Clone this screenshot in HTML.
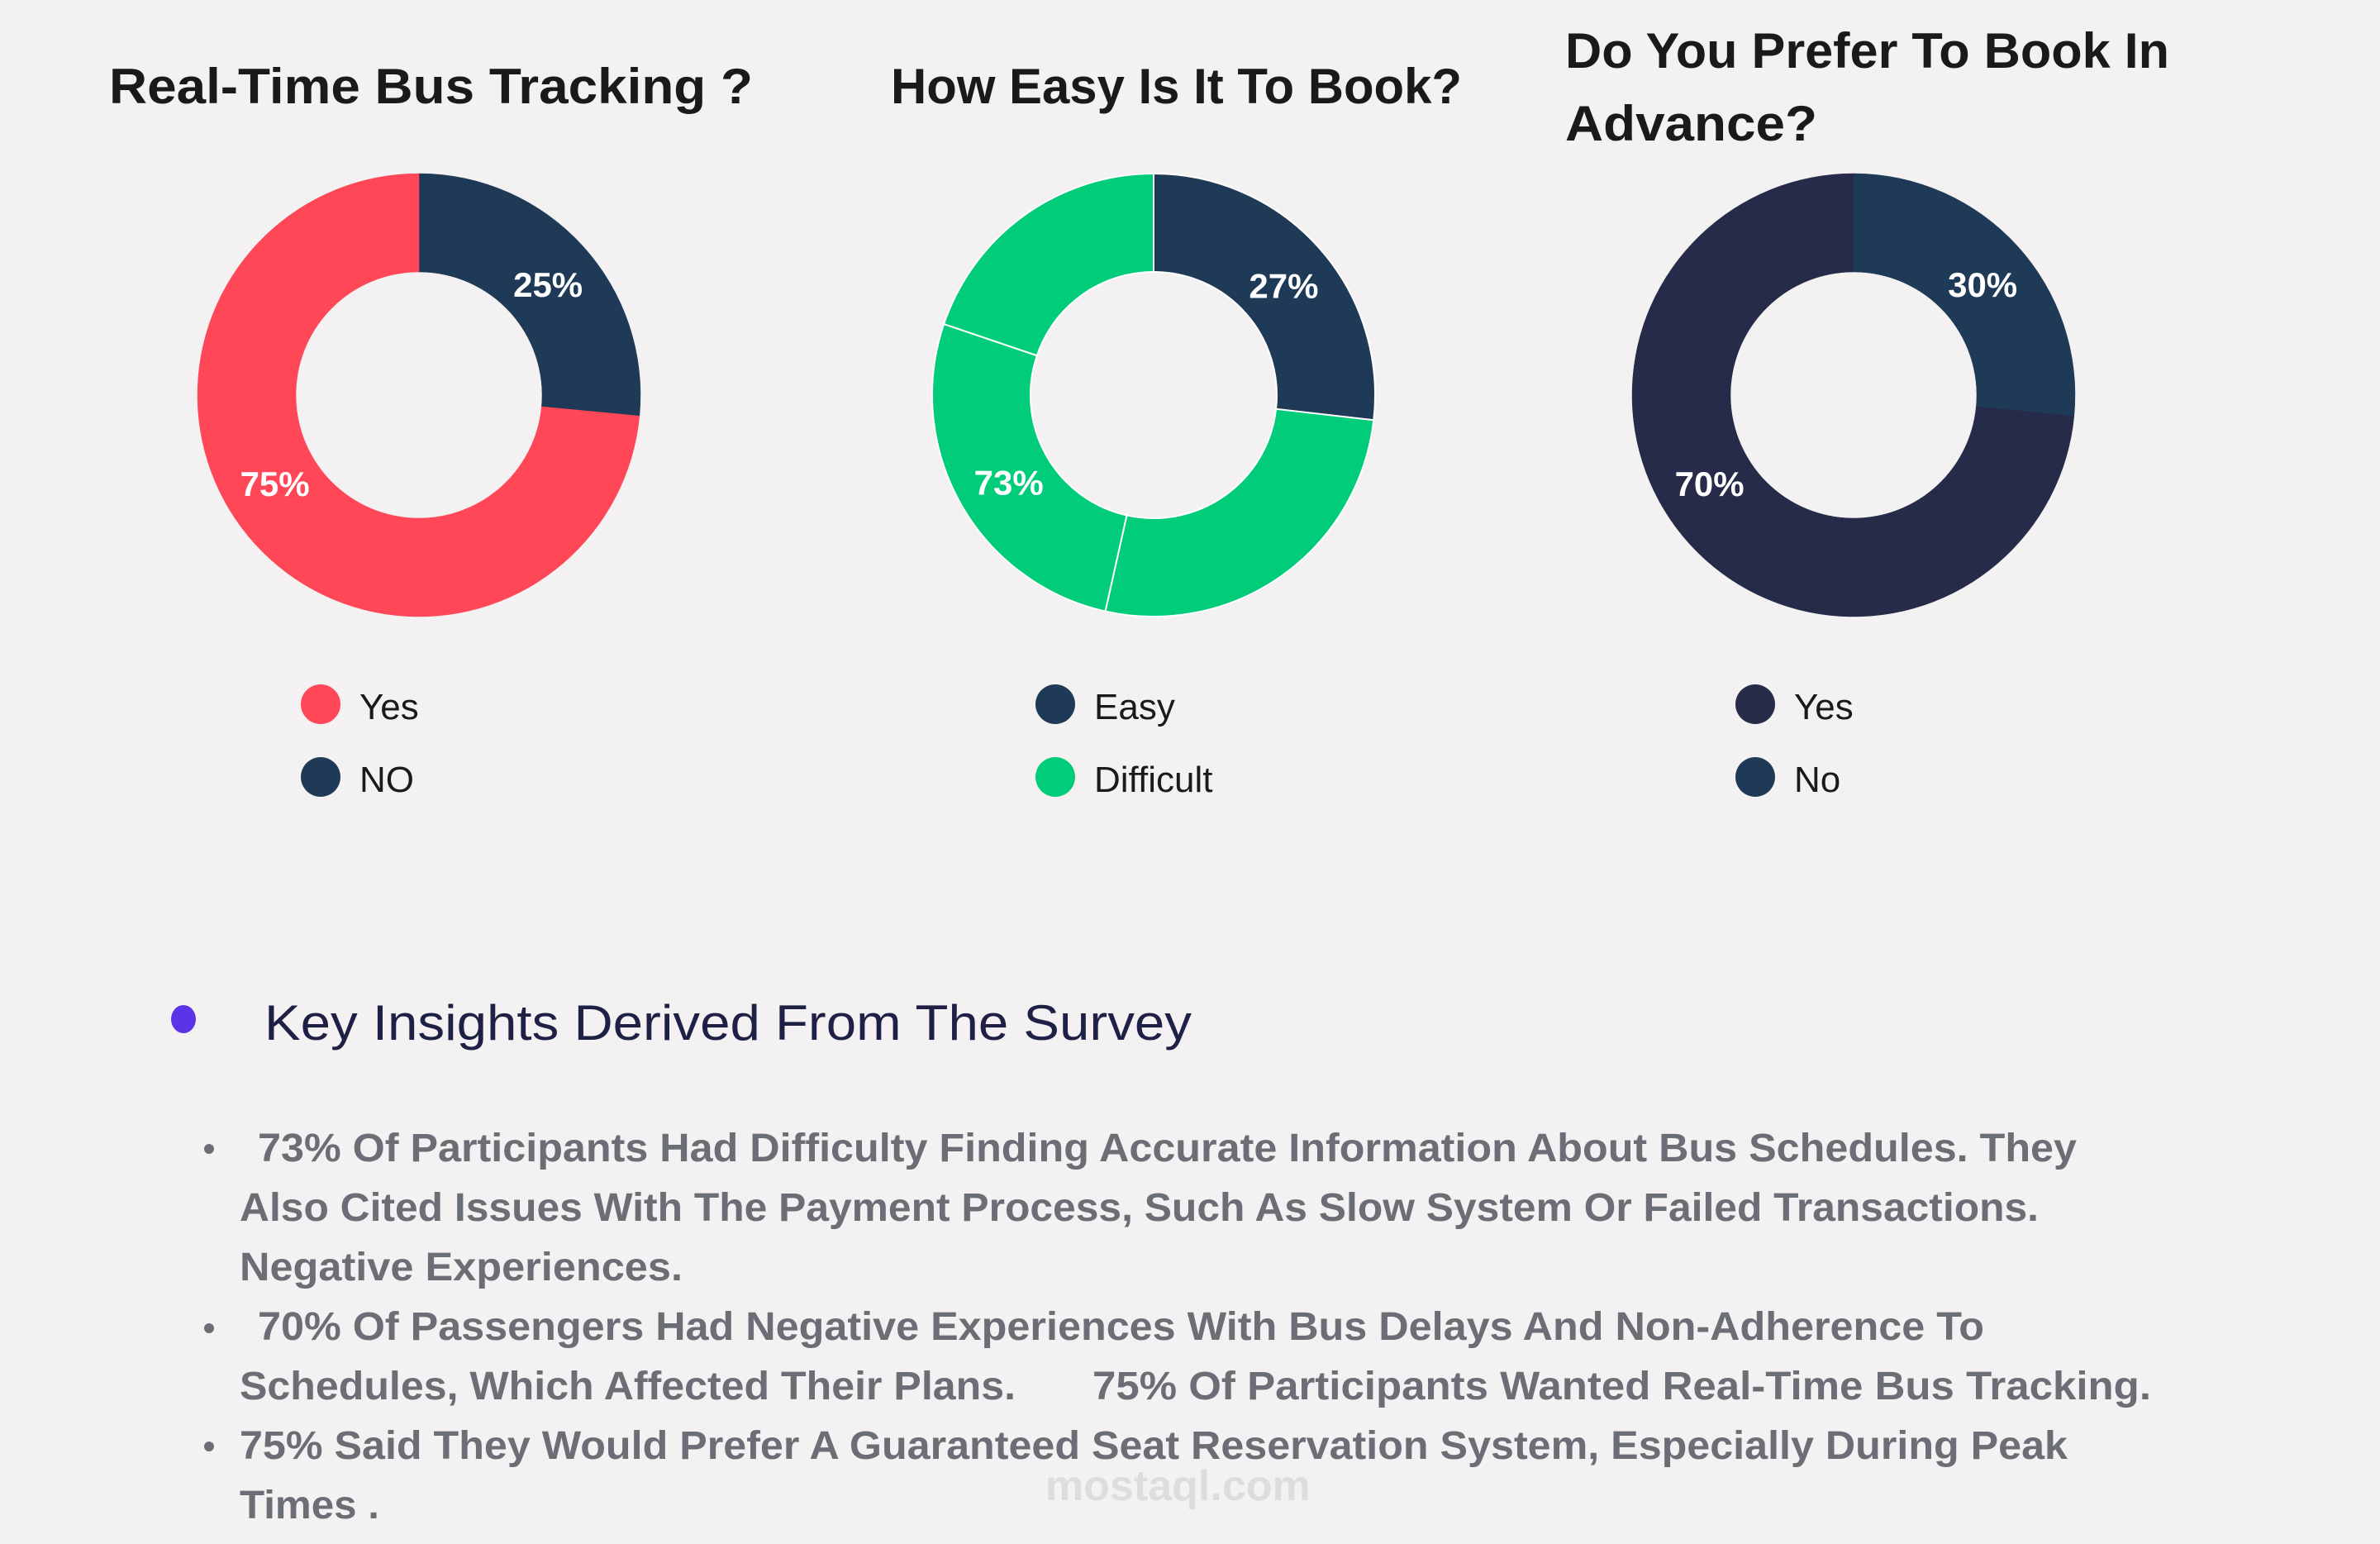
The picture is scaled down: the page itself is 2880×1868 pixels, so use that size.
<!DOCTYPE html>
<html><head><meta charset="utf-8"><style>
html,body{margin:0;padding:0;background:#F3F1F1;}
svg{display:block;font-family:"Liberation Sans",sans-serif;}
</style></head><body>
<svg id="root" width="2880" height="1868" viewBox="0 0 2880 1868">
<rect width="2880" height="1868" fill="#F3F1F1"/>
<g font-weight="bold" fill="#1a1a1a" font-size="60">
<text x="132" y="125" textLength="779" lengthAdjust="spacingAndGlyphs">Real-Time Bus Tracking ?</text>
<text x="1078" y="125" textLength="691" lengthAdjust="spacingAndGlyphs">How Easy Is It To Book?</text>
<text x="1894" y="82" textLength="731" lengthAdjust="spacingAndGlyphs">Do You Prefer To Book In</text>
<text x="1894" y="170" textLength="305" lengthAdjust="spacingAndGlyphs">Advance?</text>
</g>
<g id="charts"></g>
<g>
<ellipse cx="222" cy="1233" rx="15" ry="17" fill="#5B34E8"/>
<text x="320" y="1258" font-size="60" fill="#1E2145" textLength="1122" lengthAdjust="spacingAndGlyphs">Key Insights Derived From The Survey</text>
<g fill="#6B6E75" font-size="48" font-weight="bold">
<circle cx="253" cy="1390" r="6"/>
<circle cx="253" cy="1607" r="6"/>
<circle cx="253" cy="1750" r="6"/>
<text x="312" y="1405" textLength="2201" lengthAdjust="spacingAndGlyphs">73% Of Participants Had Difficulty Finding Accurate Information About Bus Schedules. They</text>
<text x="290" y="1477" textLength="2177" lengthAdjust="spacingAndGlyphs">Also Cited Issues With The Payment Process, Such As Slow System Or Failed Transactions.</text>
<text x="290" y="1549" textLength="536" lengthAdjust="spacingAndGlyphs">Negative Experiences.</text>
<text x="312" y="1621" textLength="2089" lengthAdjust="spacingAndGlyphs">70% Of Passengers Had Negative Experiences With Bus Delays And Non-Adherence To</text>
<text x="290" y="1693" textLength="939" lengthAdjust="spacingAndGlyphs">Schedules, Which Affected Their Plans.</text>
<text x="1322" y="1693" textLength="1281" lengthAdjust="spacingAndGlyphs">75% Of Participants Wanted Real-Time Bus Tracking.</text>
<text x="290" y="1765" textLength="2212" lengthAdjust="spacingAndGlyphs">75% Said They Would Prefer A Guaranteed Seat Reservation System, Especially During Peak</text>
<text x="290" y="1837" textLength="169" lengthAdjust="spacingAndGlyphs">Times .</text>
</g>
<text x="1265" y="1815" font-size="52" fill="#6B6E75" opacity="0.15" font-weight="bold">mostaql.com</text>
</g>
</svg>
<script>
const chartCenters = [507, 1396, 2243];
const trackingValues = [26.5, 73.5];
const trackingLabels = ["25%", "75%"];
const trackingLegend = ["Yes", "NO"];
const bookingValues = [26.8, 26.7, 26.7, 19.8];
const bookingLabels = ["27%", "73%"];
const bookingLegend = ["Easy", "Difficult"];
const advanceValues = [26.5, 73.5];
const advanceLabels = ["30%", "70%"];
const advanceLegend = ["Yes", "No"];

const NS = "http://www.w3.org/2000/svg";
const g = document.getElementById('charts');
const CY = 478, R = 268, RI = 149;
function mk(tag, attrs, parent) {
  const e = document.createElementNS(NS, tag);
  for (const k in attrs) e.setAttribute(k, attrs[k]);
  parent.appendChild(e); return e;
}
function pt(cx, a, r) { const t = a * Math.PI / 180; return [cx + r * Math.sin(t), CY - r * Math.cos(t)]; }
function arc(cx, a0, a1) {
  const [x0, y0] = pt(cx, a0, R), [x1, y1] = pt(cx, a1, R), [x2, y2] = pt(cx, a1, RI), [x3, y3] = pt(cx, a0, RI);
  const lg = (a1 - a0) > 180 ? 1 : 0;
  return `M${x0},${y0}A${R},${R} 0 ${lg} 1 ${x1},${y1}L${x2},${y2}A${RI},${RI} 0 ${lg} 0 ${x3},${y3}Z`;
}
function donut(idx, values, colors, strokes, labels, legend, legendColors, name) {
  const cx = chartCenters[idx];
  const total = values.reduce((a, b) => a + b, 0);
  let a = 0;
  values.forEach((v, i) => {
    const a1 = a + v / total * 360;
    const p = mk('path', { d: arc(cx, a, a1), fill: colors[i], stroke: strokes ? '#ffffff' : colors[i], 'stroke-width': strokes ? 2 : 0.5 }, g);
    
    
    a = a1;
  });
  const first = values[0] / total * 360;
  const pos = [first * 0.52, first + (360 - first) * 0.54];
  labels.forEach((l, i) => {
    const [x, y] = pt(cx, pos[i], 205);
    const t = mk('text', { x: x, y: y + 14, 'text-anchor': 'middle', fill: '#fff', 'font-size': 42, 'font-weight': 'bold' }, g);
    t.textContent = l;
    
    
  });
  legend.forEach((l, i) => {
    const y = 852 + i * 88;
    const c = mk('circle', { cx: cx - 119, cy: y, r: 24, fill: legendColors[i] }, g);
    
    
    const t = mk('text', { x: cx - 72, y: y + 18, fill: '#1a1a1a', 'font-size': 44 }, g);
    t.textContent = l;
    
    
  });
}
donut(0, trackingValues, ['#1F3A57', '#FF4757'], false, trackingLabels, trackingLegend, ['#FF4757', '#1F3A57'], 'tracking');
donut(1, bookingValues, ['#1F3A57', '#00CC7A', '#00CC7A', '#00CC7A'], true, bookingLabels, bookingLegend, ['#1F3A57', '#00CC7A'], 'booking');
donut(2, advanceValues, ['#1F3A57', '#252B48'], false, advanceLabels, advanceLegend, ['#252B48', '#1F3A57'], 'advance');
</script>
</body></html>
